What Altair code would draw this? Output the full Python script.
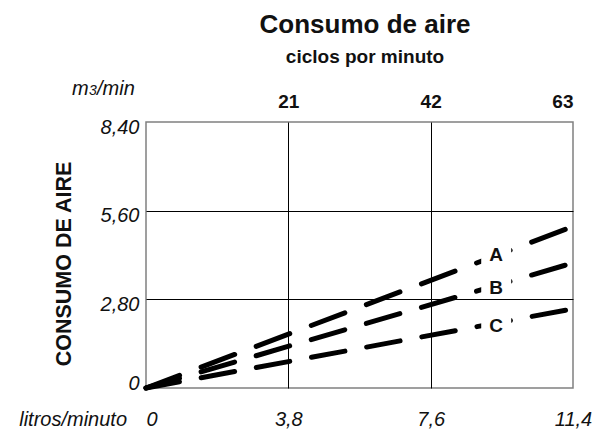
import altair as alt
import pandas as pd

FONT = "Liberation Sans"

# ---- data ----
series = ["A", "B", "C"]
litros_end = [11.4, 11.4, 11.4]          # l/min at right edge
aire_end = [5.10, 3.95, 2.50]            # m3/min at right edge (lines start at 0,0)

label_x = [9.35, 9.35, 9.35]
label_y = [4.20, 3.16, 1.96]

x_ticks = [0, 3.8, 7.6, 11.4]
y_ticks = [0, 2.8, 5.6, 8.4]
ciclos_ticks = [21, 42, 63]

dash_patterns = [[35.9, 23.0], [34.9, 22.5], [34.0, 22.1]]

title_text = ["Consumo de aire"]
subtitle_text = ["ciclos por minuto"]
ylabel_text = ["CONSUMO DE AIRE"]
xlabel_text = ["litros/minuto"]
unit_parts = ["m", "3", "/min"]

# ---- tables ----
rows = []
for s, xe, ye in zip(series, litros_end, aire_end):
    rows.append({"serie": s, "litros": 0.0, "aire": 0.0})
    rows.append({"serie": s, "litros": xe, "aire": ye})
line_df = pd.DataFrame(rows)
label_df = pd.DataFrame({"serie": series, "litros": label_x, "aire": label_y})
ciclos_df = pd.DataFrame({"ciclos": [0] + ciclos_ticks})

W, H = 427, 266

xscale = alt.Scale(domain=[0, 11.4], nice=False, zero=True)
yscale = alt.Scale(domain=[0, 8.4], nice=False, zero=True)

x_axis = alt.Axis(
    values=x_ticks, title=None, ticks=False, tickSize=0, domain=False,
    labelExpr="datum.value == 0 ? '0' : replace(format(datum.value, '.1f'), '.', ',')",
    labelFont=FONT, labelFontSize=20, labelFontStyle="italic", labelColor="#111",
    labelPadding=31, labelBaseline="middle",
    labelAlign={"condition": {"test": "datum.value == 0", "value": "left"}, "value": "center"},
    grid=True,
    gridColor={"condition": {"test": "datum.value == 0 || datum.value == 11.4", "value": "transparent"}, "value": "black"},
    gridWidth=1, gridOpacity=1,
)
y_axis = alt.Axis(
    values=y_ticks, title=None, ticks=False, tickSize=0, domain=False,
    labelExpr="datum.value == 0 ? '0' : replace(format(datum.value, '.2f'), '.', ',')",
    labelFont=FONT, labelFontSize=20, labelFontStyle="italic", labelColor="#111",
    labelPadding=7, labelBaseline="middle",
    labelOffset={"condition": {"test": "datum.value == 0", "value": -5}, "value": 5},
    grid=True,
    gridColor={"condition": {"test": "datum.value == 0 || datum.value == 8.4", "value": "transparent"}, "value": "black"},
    gridWidth=1, gridOpacity=1,
)

lines = alt.Chart(line_df).mark_line(strokeWidth=5, strokeCap="round", color="black").encode(
    x=alt.X("litros:Q", scale=xscale, axis=x_axis),
    y=alt.Y("aire:Q", scale=yscale, axis=y_axis),
    strokeDash=alt.StrokeDash("serie:N", scale=alt.Scale(domain=series, range=dash_patterns), legend=None),
    detail="serie:N",
)

boxes = alt.Chart(label_df).mark_point(
    shape="M-1.5,-1.1H1.5V1.1H-1.5Z", filled=True, fill="white", stroke=None, opacity=1, size=400
).encode(
    x=alt.X("litros:Q", scale=xscale, axis=None),
    y=alt.Y("aire:Q", scale=yscale, axis=y_axis),
)

labels = alt.Chart(label_df).mark_text(
    font=FONT, fontSize=19, fontWeight="bold", color="#111", align="center", baseline="middle"
).encode(
    x=alt.X("litros:Q", scale=xscale, axis=None),
    y=alt.Y("aire:Q", scale=yscale, axis=y_axis),
    text="serie:N",
)

top = alt.Chart(ciclos_df).mark_point(opacity=0).encode(
    x=alt.X("ciclos:Q", scale=alt.Scale(domain=[0, 63], nice=False, zero=True),
            axis=alt.Axis(orient="top", values=ciclos_ticks, title=None, ticks=False, tickSize=0,
                          domain=False, grid=False, labelFont=FONT, labelFontSize=19,
                          labelFontWeight="bold", labelColor="#111", labelPadding=21,
                          labelBaseline="middle",
                          labelAlign={"condition": {"test": "datum.value == 63", "value": "right"},
                                      "value": "center"})),
    y=alt.value(0),
)


def txt(text, x, y, **kw):
    return alt.Chart(pd.DataFrame({"t": text})).mark_text(font=FONT, color="#111", **kw).encode(
        text="t:N", x=alt.value(x), y=alt.value(y))


title = txt(title_text, 219, -89, fontSize=26, fontWeight="bold", align="center", baseline="alphabetic")
subtitle = txt(subtitle_text, 219, -59, fontSize=19, fontWeight="bold", align="center", baseline="alphabetic")
ytitle = txt(ylabel_text, -81, 142, fontSize=21.5, fontWeight="bold", align="center", baseline="middle", angle=270)
xtitle = txt(xlabel_text, -19, 304, fontSize=20, fontStyle="italic", align="right", baseline="alphabetic")
u1 = txt([unit_parts[0]], -74, -27, fontSize=20, fontStyle="italic", align="left", baseline="alphabetic")
u2 = txt([unit_parts[1]], -57, -27, fontSize=14, fontStyle="italic", align="left", baseline="alphabetic")
u3 = txt([unit_parts[2]], -49, -27, fontSize=20, fontStyle="italic", align="left", baseline="alphabetic")

chart = alt.layer(lines, boxes, labels, top, title, subtitle, ytitle, xtitle, u1, u2, u3).resolve_scale(
    x="independent"
).properties(
    width=W, height=H,
    padding={"left": 138, "top": 114, "right": 19, "bottom": 42},
    autosize=alt.AutoSizeParams(type="none"),
    background="white",
).configure_view(stroke="#808080", strokeWidth=1.5)

chart.save("out.html", embed_options={"renderer": "svg", "actions": False})
